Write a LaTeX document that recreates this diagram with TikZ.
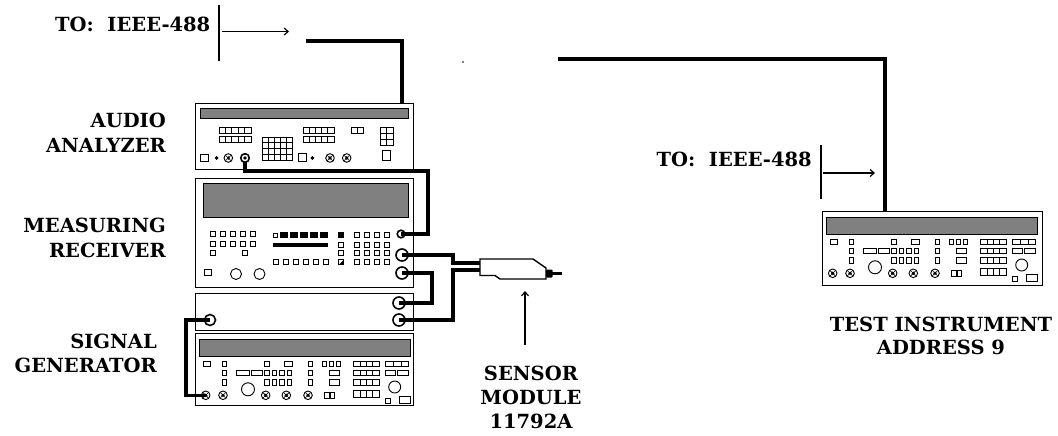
\documentclass[tikz,border=0pt]{standalone}
\usepackage{fontspec}
\setmainfont{DejaVu Serif}
\usetikzlibrary{arrows.meta}
\tikzset{
 inst/.style={draw, line width=1.4pt, fill=white, inner sep=0pt, anchor=north west},
 disp/.style={draw, line width=0.8pt, fill=black!50},
 ctl/.style={draw, line width=0.9pt},
 cable/.style={line width=3.2pt},
 sepline/.style={line width=1.4pt},
 arr/.style={line width=1.2pt, -{Straight Barb[length=4pt,width=7pt]}},
 lbl/.style={font=\fontsize{19.5}{25}\selectfont\bfseries, inner sep=0pt},
 conn/.style={draw, line width=1.6pt},
}
\newcommand\segbar[5]{%
  \draw[ctl] (#1,#2) rectangle (#3,#4);
  \foreach \i in {1,...,#5}{\draw[line width=0.7pt] ({#1+\i*(#3-#1)/(#5+1)},#2) -- ({#1+\i*(#3-#1)/(#5+1)},#4);}%
}
\newcommand\gridbox[6]{%
  \draw[ctl] (#1,#2) rectangle (#3,#4);
  \foreach \i in {1,...,#5}{\draw[line width=0.7pt] ({#1+\i*(#3-#1)/(#5+1)},#2) -- ({#1+\i*(#3-#1)/(#5+1)},#4);}%
  \foreach \j in {1,...,#6}{\draw[line width=0.7pt] (#1,{#2+\j*(#4-#2)/(#6+1)}) -- (#3,{#2+\j*(#4-#2)/(#6+1)});}%
}
\newcommand\knob[2]{%
  \draw[ctl] (#1,#2) circle (4.3);
  \fill (#1,#2) circle (1.8);
  \draw[line width=0.6pt] (#1-2.8,#2-2.8) -- (#1+2.8,#2+2.8) (#1-2.8,#2+2.8) -- (#1+2.8,#2-2.8);
}
\newcommand\smalldia[2]{\fill (#1-2,#2) -- (#1,#2-2) -- (#1+2,#2) -- (#1,#2+2) -- cycle;}
\newcommand\sgpanel[1]{%
 \begin{scope}[shift={#1}]
  \draw[disp] (4,6) rectangle (215,23);
  % row 1
  \draw[ctl] (8,28) rectangle (15,33);
  \foreach \x in {27,69.5,113} \draw[ctl] (\x,28) rectangle ++(4.5,5);
  \draw[ctl] (89,28) rectangle (97,33);
  \foreach \x in {127,134,141.3} \draw[ctl] (\x,28) rectangle ++(4.4,5);
  \segbar{158.7}{28}{184}{33}{3}
  \segbar{190.3}{28}{213.7}{33}{2}
  % row 2
  \foreach \x in {27,113} \draw[ctl] (\x,37.5) rectangle ++(4.5,5);
  \draw[ctl] (41.3,37.5) rectangle (54.2,42.5);
  \draw[ctl] (56.3,37.5) rectangle (67.8,42.5);
  \foreach \x in {69.7,77.2,84.7,92.2} \draw[ctl] (\x,37.5) rectangle ++(4.5,5);
  \draw[ctl] (134,37.5) rectangle (144.7,42.5);
  \segbar{158.7}{37.5}{184}{42.5}{3}
  \draw[ctl] (190.3,37.5) rectangle (200.7,42.5);
  \draw[ctl] (202.5,37.5) rectangle (213.7,42.5);
  % row 3
  \foreach \x in {27,69.7,77.2,84.7,92.2,113} \draw[ctl] (\x,46.5) rectangle ++(4.5,5.5);
  \draw[ctl] (134,46.5) rectangle (144.7,52);
  \segbar{158.7}{46.5}{184}{52}{3}
  \draw[ctl] (199.7,54) circle (6);
  % row 4
  \foreach \x in {10.7,28,70.7,91.3,113} {\knob{\x}{62.3}}
  \draw[ctl] (53,56.3) circle (6.5);
  \draw[ctl] (129.7,59.7) rectangle (134,65.7);
  \draw[ctl] (135.5,59.7) rectangle (139.9,65.7);
  \segbar{158.7}{57.3}{184}{64}{3}
  \draw[ctl] (190.7,65) rectangle (195.3,70);
  \draw[ctl] (204.7,63.3) rectangle (215.3,70);
 \end{scope}
}
\begin{document}
\begin{tikzpicture}[x=1pt,y=-1pt]
\useasboundingbox (0,0) rectangle (1058,436);

% ---------- labels ----------
\node[lbl, anchor=base west] (to1) at (55,32) {TO:\ \ IEEE-488};
\node[lbl, anchor=base east] (to2) at (812,166) {TO:\ \ IEEE-488};
\node[lbl, align=right, anchor=north east] (aaL) at (166,113) {AUDIO\\ANALYZER};
\node[lbl, align=right, anchor=north east] (mrL) at (166,218) {MEASURING\\RECEIVER};
\node[lbl, align=right, anchor=north east, font=\fontsize{19.5}{23.5}\selectfont\bfseries] (sgL) at (157,334) {SIGNAL\\GENERATOR};
\node[lbl, align=center, anchor=north, font=\fontsize{19.5}{22.5}\selectfont\bfseries] (tiL) at (941,317) {TEST INSTRUMENT\\ADDRESS 9};
\node[lbl, align=center, anchor=north, font=\fontsize{19.5}{24}\selectfont\bfseries] (smL) at (531,366) {SENSOR\\MODULE\\11792A};

% ---------- GPIB markers ----------
\coordinate (sep1t) at (219,5); \coordinate (sep1b) at (219,61);
\draw[sepline] (sep1t) -- (sep1b);
\coordinate (a1s) at (222,31.5); \coordinate (a1e) at (289,31.5);
\draw[arr] (a1s) -- (a1e);
\coordinate (sep2t) at (821,145); \coordinate (sep2b) at (821,199);
\draw[sepline] (sep2t) -- (sep2b);
\coordinate (a2s) at (823,173); \coordinate (a2e) at (875,173);
\draw[arr] (a2s) -- (a2e);
\fill (463,62) circle (0.9);

% ---------- instrument boxes ----------
\node[inst, minimum width=218pt, minimum height=66pt] (aa) at (195,103) {};
\node[inst, minimum width=218pt, minimum height=109pt] (mr) at (195,178) {};
\node[inst, minimum width=218pt, minimum height=37pt] (sgu) at (195,293) {};
\node[inst, minimum width=218pt, minimum height=72pt] (sgl) at (195,333) {};
\node[inst, minimum width=220pt, minimum height=74pt] (ti) at (822,211) {};

% ---------- audio analyzer panel ----------
\draw[disp] (200,108) rectangle (408,118);
\segbar{219}{127}{251}{133}{4}
\segbar{219}{136}{251}{142}{4}
\gridbox{262}{137}{292}{160}{4}{3}
\segbar{303}{127}{334}{133}{4}
\segbar{303}{136}{334}{142}{4}
\segbar{351}{127}{363}{133}{1}
\gridbox{380}{127}{393}{145}{1}{2}
\draw[ctl] (200,154) rectangle (208,161.5);
\smalldia{216.7}{158}
\knob{228.3}{158}
\draw[ctl] (298.3,153) rectangle (306.7,161.5);
\smalldia{312.3}{158}
\knob{330}{158}
\knob{346.7}{158}
\draw[ctl] (382.7,150) rectangle (390,160);

% ---------- measuring receiver panel ----------
\draw[disp] (203,183) rectangle (408,217);
\foreach \x in {210,220,230,240,250} {
  \draw[ctl] (\x,231.5) rectangle ++(5,5);
  \draw[ctl] (\x,241.5) rectangle ++(5,5);
}
\draw[ctl] (273,233) rectangle (277.5,237.5);
\foreach \x in {280,290,300,310,320} \fill (\x,232) rectangle ++(8,6);
\fill (273,243) rectangle (328,246.5);
\draw[ctl] (210,250) rectangle ++(5,5);
\draw[ctl] (242,250) rectangle ++(5,5);
\foreach \x in {273,283,293,303,313,323} \draw[ctl] (\x,259.5) rectangle ++(5,5);
\fill (338,232) rectangle (344,238);
\foreach \y in {242,250.5,259.5} \draw[ctl] (338.5,\y) rectangle ++(5,5);
\fill (339,264.5) -- (343.5,260) -- (343.5,264.5) -- cycle;
\foreach \x in {354,364,374,384} {
  \foreach \y in {232,242,250.5,259.5} \draw[ctl] (\x,\y) rectangle ++(5.5,5);
}
\draw[ctl] (204,269) rectangle (211,275);
\draw[ctl] (236,274) circle (5.5);
\draw[ctl] (259.5,274) circle (5.5);

% ---------- signal generator & test instrument panels ----------
\sgpanel{(195,333)}
\sgpanel{(822,211)}

% ---------- connector points ----------
\coordinate (aaK) at (245,158);
\coordinate (aaTop) at (402,103);
\coordinate (mrK) at (401,234);
\coordinate (mrC1) at (402,255);
\coordinate (mrC2) at (402,273);
\coordinate (sgC1) at (399,303);
\coordinate (sgC2) at (399,320);
\coordinate (sgLc) at (210,320);
\coordinate (sgK) at (205.7,395.3);
\coordinate (tiTop) at (885,211);
\coordinate (si1) at (480,263);
\coordinate (si2) at (480,270);
\coordinate (bus1) at (306,41);
\coordinate (bus2) at (558,59);

% ---------- cables ----------
\draw[cable] (aaTop) |- (bus1);
\draw[cable] (tiTop) |- (bus2);
\draw[cable] (aaK) |- (428,171) |- (mrK);
\draw[cable] (mrC1) -| (453,263) -- (si1);
\draw[cable] (sgC2) -| (453,270) -- (si2);
\draw[cable] (mrC2) -| (432,288) |- (sgC1);
\draw[cable] (sgLc) -| (186,360) |- (sgK);

% ---------- connectors ----------
\draw[conn, fill=white] (245,158) circle (4.3); \fill (245,158) circle (1.8);
\draw[conn] (mrK) circle (3.8);
\draw[conn] (mrC1) circle (6);
\draw[conn] (mrC2) circle (6);
\draw[conn] (sgC1) circle (6);
\draw[conn] (sgC2) circle (6);
\draw[conn] (sgLc) circle (5.5);

% ---------- sensor module ----------
\draw[line width=1.4pt, fill=white] (480,259) -- (533,259) -- (546,268) -- (546,279) -- (500,279) -- (495,275.5) -- (480,275.5) -- cycle;
\fill[rounded corners=1pt] (546,269.5) rectangle (552.5,277.5);
\draw[line width=3pt] (552,273.5) -- (562,273.5);
\coordinate (smTail) at (525,345);
\coordinate (smHead) at (525,291);
\draw[arr] (smTail) -- (smHead);
\end{tikzpicture}
\end{document}
